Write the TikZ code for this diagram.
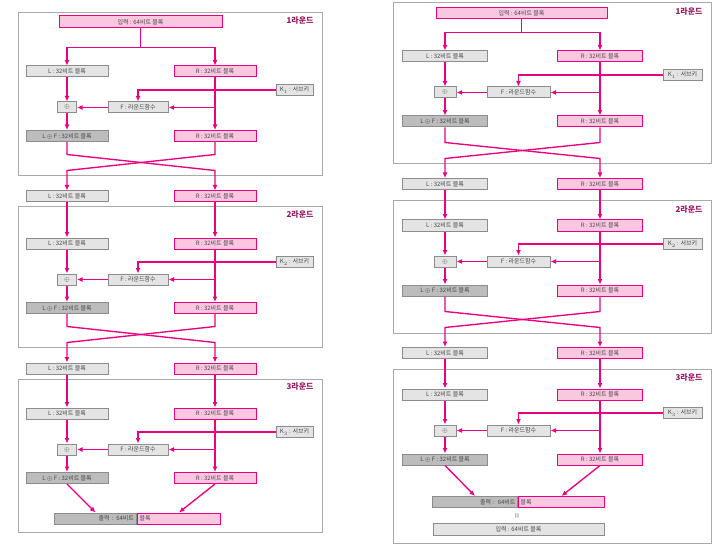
\documentclass[tikz,border=0pt]{standalone}
\usepackage{fontspec}
\setmainfont{Noto Sans CJK KR}
\usetikzlibrary{arrows.meta}

\definecolor{hot}{RGB}{232,0,128}
\definecolor{pinkfill}{RGB}{249,200,224}
\definecolor{lightfill}{RGB}{228,228,228}
\definecolor{darkfill}{RGB}{188,188,188}
\definecolor{edgegray}{RGB}{140,140,140}
\definecolor{framegray}{RGB}{170,170,170}
\definecolor{roundcol}{RGB}{150,25,95}

\tikzset{
  blk/.style={draw=edgegray, fill=lightfill, line width=1pt, minimum height=11pt,
    inner sep=0pt, text=black!72, font=\fontsize{6}{6}\selectfont},
  gblk/.style={blk, minimum width=#1}, gblk/.default=82pt,
  pblk/.style={blk, draw=hot, fill=pinkfill, minimum width=#1}, pblk/.default=82pt,
  dblk/.style={blk, fill=darkfill, minimum width=#1}, dblk/.default=82pt,
  arr/.style={draw=hot, line width=1.35pt, -{Latex[length=5.5pt,width=5pt]}},
  frame/.style={draw=framegray, line width=1pt},
  rlabel/.style={anchor=east, text=roundcol, font=\fontsize{8}{9}\selectfont\bfseries},
}

\begin{document}
\begin{tikzpicture}[x=1pt,y=-1pt]
\path[use as bounding box, fill=white] (0,0) rectangle (719,553);

% ---------- left ----------
\foreach \r/\ft/\fb in {1/13/176, 2/207/347, 3/379/532} {
  \draw[frame] (18,\ft) rectangle (322,\fb);
  \node[rlabel] (a-t\r) at (317,\ft+8) {\r{}라운드};
}

\node[pblk=163pt, minimum height=12pt] (a-in) at (140.5,22) {입력 : 64비트 블록};

\foreach \r/\t in {1/66, 2/238, 3/408} {
  \node[gblk] (a-L\r) at (67,\t+5.5) {L : 32비트 블록};
  \node[pblk] (a-R\r) at (215,\t+5.5) {R : 32비트 블록};
  \node[gblk=37pt] (a-K\r) at (294.5,\t+24) {K$_\r$ : 서브키};
  \node[gblk=60pt] (a-F\r) at (138,\t+41.5) {F : 라운드함수};
  \node[gblk=19pt] (a-X\r) at (67,\t+41.5) {$\oplus$};
  \node[dblk] (a-LF\r) at (67,\t+70) {L $\oplus$ F : 32비트 블록};
  \node[pblk] (a-RR\r) at (215,\t+70) {R : 32비트 블록};
  \coordinate (a-j\r) at (215,\t+41.5);
  \draw[arr] (a-L\r) -- (a-X\r);
  \draw[arr] (a-X\r) -- (a-LF\r);
  \draw[arr] (a-R\r) -- (a-RR\r);
  \draw[arr] (a-K\r) -| (a-F\r);
  \draw[arr] (a-j\r) -- (a-F\r);
  \draw[arr] (a-F\r) -- (a-X\r);
}

\draw[arr] (a-in.south) -- ++(0,19) -| (a-L1);
\draw[arr] (a-in.south) -- ++(0,19) -| (a-R1);

% swap
\foreach \r/\t/\n in {1/66/2, 2/238/3} {
  \node[gblk] (a-nL\r) at (67,\t+130.5) {L : 32비트 블록};
  \node[pblk] (a-nR\r) at (215,\t+130.5) {R : 32비트 블록};
  \draw[arr] (a-LF\r.south) -- ++(0,12.5) -- ++(148,16) -- (a-nR\r);
  \draw[arr] (a-RR\r.south) -- ++(0,12.5) -- ++(-148,16) -- (a-nL\r);
  \draw[arr] (a-nL\r) -- (a-L\n);
  \draw[arr] (a-nR\r) -- (a-R\n);
}

\node[dblk, anchor=east, text width=77pt, inner xsep=2pt, align=right] (a-oL) at (137,518.5) {출력 : 64비트};
\node[pblk, anchor=west, text width=79pt, inner xsep=2pt, align=left] (a-oR) at (137,518.5) {블록};
\draw[arr] (a-LF3.south) -- (a-oL.north);
\draw[arr] (a-RR3.south) -- (a-oR.north);

% ---------- right ----------
\foreach \r/\ft/\fb in {1/3/164, 2/201/333, 3/369/543} {
  \draw[frame] (393,\ft) rectangle (711,\fb);
  \node[rlabel] (b-t\r) at (706,\ft+9) {\r{}라운드};
}

\node[pblk=171pt] (b-in) at (521.5,13.5) {입력 : 64비트 블록};

\foreach \r/\t in {1/51, 2/220, 3/389} {
  \node[gblk=85pt] (b-L\r) at (445,\t+5.5) {L : 32비트 블록};
  \node[pblk=85pt] (b-R\r) at (600,\t+5.5) {R : 32비트 블록};
  \node[gblk=39pt] (b-K\r) at (682.5,\t+24) {K$_\r$ : 서브키};
  \node[gblk=63pt] (b-F\r) at (518.5,\t+41.5) {F : 라운드함수};
  \node[gblk=22pt] (b-X\r) at (445,\t+41.5) {$\oplus$};
  \node[dblk=85pt] (b-LF\r) at (445,\t+70.5) {L $\oplus$ F : 32비트 블록};
  \node[pblk=85pt] (b-RR\r) at (600,\t+70.5) {R : 32비트 블록};
  \coordinate (b-j\r) at (600,\t+41.5);
  \draw[arr] (b-L\r) -- (b-X\r);
  \draw[arr] (b-X\r) -- (b-LF\r);
  \draw[arr] (b-R\r) -- (b-RR\r);
  \draw[arr] (b-K\r) -| (b-F\r);
  \draw[arr] (b-j\r) -- (b-F\r);
  \draw[arr] (b-F\r) -- (b-X\r);
}

\draw[arr] (b-in.south) -- ++(0,13) -| (b-L1);
\draw[arr] (b-in.south) -- ++(0,13) -| (b-R1);

% swap
\foreach \r/\t/\n in {1/51/2, 2/220/3} {
  \node[gblk=85pt] (b-nL\r) at (445,\t+133) {L : 32비트 블록};
  \node[pblk=85pt] (b-nR\r) at (600,\t+133) {R : 32비트 블록};
  \draw[arr] (b-LF\r.south) -- ++(0,15) -- ++(155,16) -- (b-nR\r);
  \draw[arr] (b-RR\r.south) -- ++(0,15) -- ++(-155,16) -- (b-nL\r);
  \draw[arr] (b-nL\r) -- (b-L\n);
  \draw[arr] (b-nR\r) -- (b-R\n);
}

\node[dblk, anchor=east, text width=81pt, inner xsep=2pt, align=right] (b-oL) at (518,502) {출력 : 64비트};
\node[pblk, anchor=west, text width=82pt, inner xsep=2pt, align=left] (b-oR) at (518,502) {블록};
\draw[arr] (b-LF3.south) -- (b-oL.north);
\draw[arr] (b-RR3.south) -- (b-oR.north);
\node[rotate=90, text=black!65, font=\fontsize{9}{9}\selectfont] (b-eq) at (518,515.5) {=};
\node[gblk=171pt, minimum height=12pt] (b-in2) at (518.5,529) {입력 : 64비트 블록};

\end{tikzpicture}
\end{document}
